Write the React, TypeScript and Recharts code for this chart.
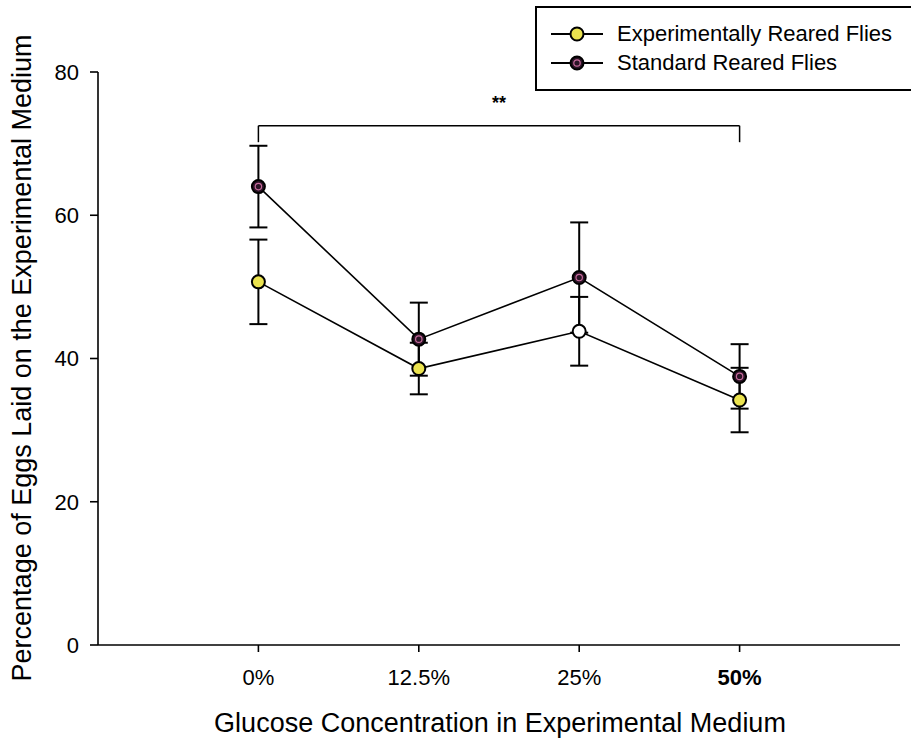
import React from 'react';
import {
  ComposedChart,
  Line,
  XAxis,
  YAxis,
  ErrorBar,
  ReferenceLine,
  Legend,
  Label,
} from 'recharts';

// ---- data ----
const categories = ['0%', '12.5%', '25%', '50%'];
const categoryPositions = [0, 1, 2, 3];
const experimentalMeans = [50.7, 38.6, 43.8, 34.2];
const experimentalErrors = [5.9, 3.6, 4.8, 4.5];
const standardMeans = [64.0, 42.7, 51.3, 37.5];
const standardErrors = [5.7, 5.1, 7.7, 4.5];
const yTicks = [0, 20, 40, 60, 80];
const bracketLevel = [72.5];
const bracketDropLevel = [70.2];
const significanceLabel = '**';

const seriesNames = ['Experimentally Reared Flies', 'Standard Reared Flies'];

const data = categoryPositions.map((x, i) => ({
  x,
  label: categories[i],
  exp: experimentalMeans[i],
  expErr: experimentalErrors[i],
  std: standardMeans[i],
  stdErr: standardErrors[i],
}));

const FONT = '"Liberation Sans", Arial, Helvetica, sans-serif';
const YELLOW = '#ebe34f';
const DARK = '#2b1426';
const PINK = '#c76a9c';

const ExpDot = (props: any) => {
  const { cx, cy, index } = props;
  if (cx == null || cy == null) return null;
  const fill = index === 2 ? '#ffffff' : YELLOW;
  return <circle key={`e-${index}`} cx={cx} cy={cy} r={6.5} fill={fill} stroke="#000" strokeWidth={2} />;
};

const StdDot = (props: any) => {
  const { cx, cy, index } = props;
  if (cx == null || cy == null) return null;
  return (
    <g key={`s-${index}`}>
      <circle cx={cx} cy={cy} r={6.5} fill={DARK} stroke="#000" strokeWidth={2} />
      <circle cx={cx} cy={cy} r={3.2} fill="none" stroke={PINK} strokeWidth={1.2} />
    </g>
  );
};

const XTick = (props: any) => {
  const { x, y, payload } = props;
  const i = categoryPositions.indexOf(payload.value);
  return (
    <text
      x={x}
      y={y}
      dy="0.71em"
      textAnchor="middle"
      fill="#000"
      fontSize={22}
      fontFamily={FONT}
      fontWeight={i === 3 ? 'bold' : 'normal'}
    >
      {categories[i] ?? ''}
    </text>
  );
};

const LegendBox = () => (
  <div
    style={{
      border: '2px solid #000',
      width: 390,
      height: 85,
      boxSizing: 'border-box',
      background: '#fff',
      fontFamily: FONT,
      fontSize: 22,
      color: '#000',
      paddingTop: 11,
    }}
  >
    {seriesNames.map((name, i) => (
      <div key={name} style={{ display: 'flex', alignItems: 'center', height: 29 }}>
        <svg width={70} height={20} style={{ display: 'block' }}>
          <line x1={14} y1={10} x2={66} y2={10} stroke="#000" strokeWidth={2} />
          {i === 0 ? (
            <circle cx={40} cy={10} r={6.5} fill={YELLOW} stroke="#000" strokeWidth={2} />
          ) : (
            <g>
              <circle cx={40} cy={10} r={6.5} fill={DARK} stroke="#000" strokeWidth={2} />
              <circle cx={40} cy={10} r={3.2} fill="none" stroke={PINK} strokeWidth={1.2} />
            </g>
          )}
        </svg>
        <span style={{ marginLeft: 10, lineHeight: '29px' }}>{name}</span>
      </div>
    ))}
  </div>
);

export default function App() {
  return (
    <div style={{ position: 'relative', width: 911, height: 740, background: '#fff' }}>
      <style>{'body{margin:0;background:#fff}'}</style>
      <ComposedChart
        width={911}
        height={740}
        data={data}
        margin={{ top: 72, right: 11, bottom: 65, left: 0 }}
        style={{ fontFamily: FONT }}
      >
        <XAxis
          dataKey="x"
          type="number"
          domain={[-1, 4]}
          ticks={categoryPositions}
          allowDataOverflow
          height={30}
          tick={<XTick />}
          tickSize={7}
          tickMargin={17}
          stroke="#000"
          strokeWidth={1.6}
          axisLine={{ stroke: '#000', strokeWidth: 1.6 }}
          tickLine={{ stroke: '#000', strokeWidth: 1.6 }}
        >
          <Label
            content={() => (
              <text x={500} y={732} textAnchor="middle" fontSize={27} fontFamily={FONT} fill="#000">
                Glucose Concentration in Experimental Medium
              </text>
            )}
          />
        </XAxis>
        <YAxis
          type="number"
          domain={[0, 80]}
          ticks={yTicks}
          width={98}
          tickSize={8}
          tickMargin={11}
          tick={{ fontSize: 22, fill: '#000', fontFamily: FONT }}
          axisLine={{ stroke: '#000', strokeWidth: 1.6 }}
          tickLine={{ stroke: '#000', strokeWidth: 1.6 }}
        >
          <Label
            content={() => (
              <text
                x={31}
                y={358}
                transform="rotate(-90 31 358)"
                textAnchor="middle"
                fontSize={27}
                fontFamily={FONT}
                fill="#000"
              >
                Percentage of Eggs Laid on the Experimental Medium
              </text>
            )}
          />
        </YAxis>

        <ReferenceLine
          segment={[
            { x: categoryPositions[0], y: bracketLevel[0] },
            { x: categoryPositions[3], y: bracketLevel[0] },
          ]}
          stroke="#000"
          strokeWidth={1.5}
        >
          <Label value={significanceLabel} position="top" offset={17} fontSize={18} fontWeight="bold" fill="#000" fontFamily={FONT} />
        </ReferenceLine>
        <ReferenceLine
          segment={[
            { x: categoryPositions[0], y: bracketLevel[0] },
            { x: categoryPositions[0], y: bracketDropLevel[0] },
          ]}
          stroke="#000"
          strokeWidth={1.5}
        />
        <ReferenceLine
          segment={[
            { x: categoryPositions[3], y: bracketLevel[0] },
            { x: categoryPositions[3], y: bracketDropLevel[0] },
          ]}
          stroke="#000"
          strokeWidth={1.5}
        />

        <Line
          dataKey="exp"
          name={seriesNames[0]}
          stroke="#000"
          strokeWidth={1.6}
          dot={false}
          activeDot={false}
          isAnimationActive={false}
        >
          <ErrorBar dataKey="expErr" direction="y" width={9} stroke="#000" strokeWidth={2} />
        </Line>
        <Line
          dataKey="std"
          name={seriesNames[1]}
          stroke="#000"
          strokeWidth={1.6}
          dot={false}
          activeDot={false}
          isAnimationActive={false}
        >
          <ErrorBar dataKey="stdErr" direction="y" width={9} stroke="#000" strokeWidth={2} />
        </Line>
        <Line
          dataKey="exp"
          stroke="none"
          dot={ExpDot}
          activeDot={false}
          legendType="none"
          isAnimationActive={false}
        />
        <Line
          dataKey="std"
          stroke="none"
          dot={StdDot}
          activeDot={false}
          legendType="none"
          isAnimationActive={false}
        />

        <Legend
          layout="vertical"
          align="center"
          verticalAlign="middle"
          content={<LegendBox />}
          wrapperStyle={{ position: 'absolute', left: 535, top: 6, width: 390, height: 85 }}
        />
      </ComposedChart>
    </div>
  );
}
